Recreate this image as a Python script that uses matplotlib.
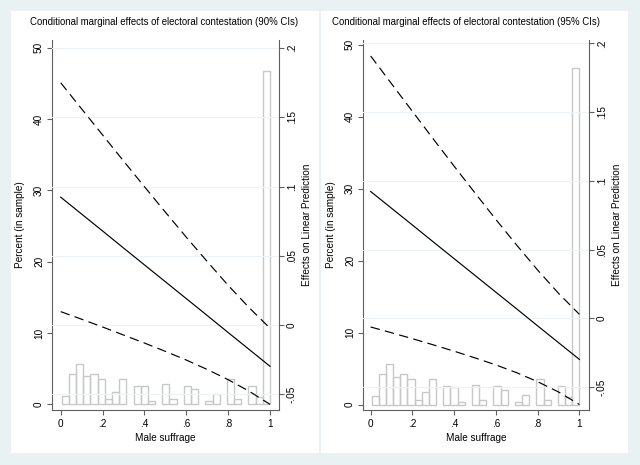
import numpy as np
import matplotlib
matplotlib.use("Agg")
import matplotlib.pyplot as plt
from matplotlib.patches import Rectangle

plt.rcParams['font.family'] = ['Liberation Sans', 'DejaVu Sans']

# male suffrage grid and marginal effect
suffrage = [0.0, 0.1, 0.2, 0.3, 0.4, 0.5, 0.6, 0.7, 0.8, 0.9, 1.0]
effect = [0.0923, 0.0801, 0.0679, 0.0556, 0.0434, 0.0312, 0.0190, 0.0068, -0.0055, -0.0177, -0.0299]
upper90 = [0.1750, 0.1561, 0.1373, 0.1185, 0.0999, 0.0815, 0.0634, 0.0458, 0.0286, 0.0125, -0.0024]
lower90 = [0.0096, 0.0041, -0.0015, -0.0073, -0.0131, -0.0191, -0.0254, -0.0322, -0.0396, -0.0479, -0.0574]
upper95 = [0.1909, 0.1707, 0.1506, 0.1305, 0.1107, 0.0912, 0.0719, 0.0532, 0.0351, 0.0182, 0.0029]
lower95 = [-0.0063, -0.0105, -0.0148, -0.0193, -0.0239, -0.0288, -0.0339, -0.0396, -0.0461, -0.0536, -0.0627]

# histogram of male suffrage, percent in sample per bin
hist_pct = [1.2, 4.2, 5.6, 3.9, 4.2, 3.5, 0.7, 1.7, 3.5, 0.0,
            2.6, 2.5, 0.4, 0.0, 2.8, 0.7, 0.0, 2.6, 2.1, 0.0,
            0.4, 1.4, 0.0, 3.5, 0.7, 0.0, 2.6, 1.0, 46.8]
hist_lo, hist_hi = 0.005, 1.0

titles = ["Conditional marginal effects of electoral contestation (90% CIs)",
          "Conditional marginal effects of electoral contestation (95% CIs)"]
bands = [(upper90, lower90), (upper95, lower95)]

x_ticks = [0, 0.2, 0.4, 0.6, 0.8, 1]
x_labels = ["0", ".2", ".4", ".6", ".8", "1"]
left_ticks = [0, 10, 20, 30, 40, 50]
right_ticks = [-0.05, 0, 0.05, 0.1, 0.15, 0.2]
right_labels = ["-.05", "0", ".05", ".1", ".15", ".2"]

W, H = 640, 465
bg = "#e9f1f3"
spine_col = "#5f5f5f"
fs = 7.2
fs_title = 6.9


def box(x0, y0, x1, y1):
    return [x0 / W, 1 - y1 / H, (x1 - x0) / W, (y1 - y0) / H]


fig = plt.figure(figsize=(6.4, 4.65), dpi=100)
fig.patch.set_facecolor(bg)

# white sub-graph regions
for x0, x1 in [(11, 319), (321, 628)]:
    b = box(x0, 11, x1, 453)
    fig.add_artist(Rectangle((b[0], b[1]), b[2], b[3], transform=fig.transFigure,
                             facecolor="white", edgecolor="none", zorder=0))

# per panel: axes box in px, x limits, left y limits, right y limits, title x
layout = [
    dict(px=(51.7, 40, 279, 410), xlim=(-0.043, 1.043), ylim=(-0.80, 51.09),
         y2lim=(-0.0615, 0.2059), tx=164),
    dict(px=(362.7, 40, 589, 410), xlim=(-0.038, 1.046), ylim=(-0.74, 50.65),
         y2lim=(-0.0667, 0.2025), tx=466),
]

edges = np.linspace(hist_lo, hist_hi, len(hist_pct) + 1)
pct = np.array(hist_pct)
keep = pct > 0

for i, lay in enumerate(layout):
    ax = fig.add_axes(box(*lay["px"]))
    ax.set_facecolor("none")
    ax.bar(edges[:-1][keep], pct[keep], width=np.diff(edges)[keep], align="edge",
           facecolor="none", edgecolor="#c8c8c8", linewidth=1.0, zorder=2)
    ax.set_xlim(*lay["xlim"])
    ax.set_ylim(*lay["ylim"])
    ax.set_xticks(x_ticks)
    ax.set_xticklabels(x_labels)
    ax.set_yticks(left_ticks)
    ax.set_xlabel("Male suffrage", fontsize=fs, labelpad=2.5)
    ax.set_ylabel("Percent (in sample)", fontsize=fs, labelpad=6.5)
    ax.tick_params(axis="both", labelsize=fs, length=3.5, width=0.8,
                   color=spine_col, pad=2)
    ax.tick_params(axis="x", pad=3)
    ax.tick_params(axis="y", labelrotation=90)
    for lbl in ax.get_yticklabels():
        lbl.set_va("center")
    for s in ["top", "right"]:
        ax.spines[s].set_visible(False)
    for s in ["left", "bottom"]:
        ax.spines[s].set_color(spine_col)
        ax.spines[s].set_linewidth(0.8)

    ax2 = ax.twinx()
    ax2.set_ylim(*lay["y2lim"])
    ax2.set_yticks(right_ticks)
    ax2.set_yticklabels(right_labels)
    ax2.grid(axis="y", color="#edf3f5", linewidth=0.8)
    ax2.set_axisbelow(True)
    up, lo = bands[i]
    ax2.plot(suffrage, effect, color="black", linewidth=0.85, zorder=3)
    ax2.plot(suffrage, up, color="black", linewidth=0.85, dashes=(8, 4.5), zorder=3)
    ax2.plot(suffrage, lo, color="black", linewidth=0.85, dashes=(8, 4.5), zorder=3)
    ax2.set_ylabel("Effects on Linear Prediction", fontsize=fs, labelpad=3.5)
    ax2.tick_params(axis="y", labelsize=fs, length=3.5, width=0.8,
                    color=spine_col, pad=2, labelrotation=90)
    for lbl in ax2.get_yticklabels():
        lbl.set_va("center")
    for s in ["top", "left", "bottom"]:
        ax2.spines[s].set_visible(False)
    ax2.spines["right"].set_color(spine_col)
    ax2.spines["right"].set_linewidth(0.8)

    fig.text(lay["tx"] / W, 1 - 21.7 / H, titles[i], fontsize=fs_title,
             ha="center", va="center")

fig.savefig("out.png", dpi=100, facecolor=bg)
plt.close(fig)
